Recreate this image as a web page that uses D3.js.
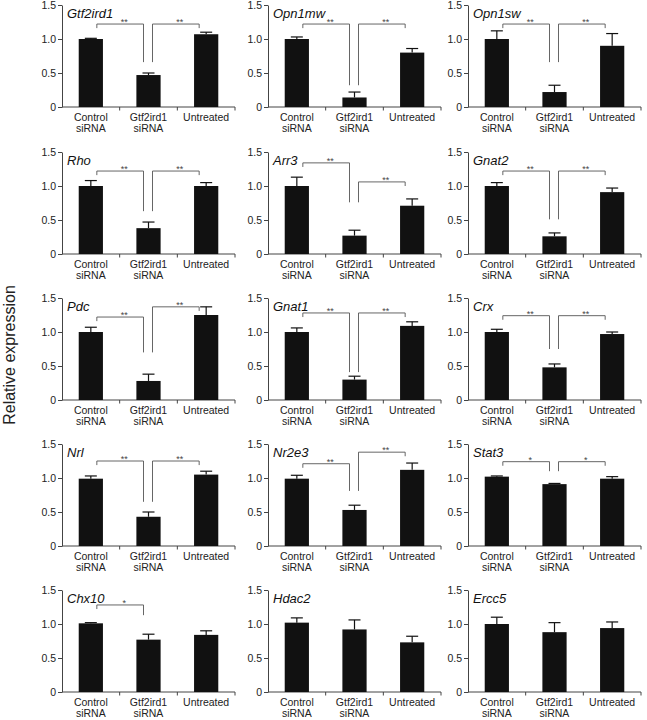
<!DOCTYPE html>
<html>
<head>
<meta charset="utf-8">
<script src="https://cdn.jsdelivr.net/npm/d3@7/dist/d3.min.js"></script>
<style>
  html, body { margin: 0; padding: 0; background: #fff; }
  svg { display: block; font-family: "Liberation Sans", Arial, Helvetica, sans-serif; }
</style>
</head>
<body>
<svg id="chart" width="647" height="720"></svg>
<script>
// ---------------- data ----------------
const genes = ["Gtf2ird1","Opn1mw","Opn1sw","Rho","Arr3","Gnat2","Pdc","Gnat1","Crx","Nrl","Nr2e3","Stat3","Chx10","Hdac2","Ercc5"];
const categories = [["Control","siRNA"],["Gtf2ird1","siRNA"],["Untreated"]];
const controlMean   = [1.00, 1.00, 1.00, 1.00, 1.00, 1.00, 1.00, 1.00, 1.00, 0.99, 0.99, 1.02, 1.01, 1.02, 1.00];
const controlErr    = [0.01, 0.03, 0.12, 0.08, 0.13, 0.05, 0.07, 0.06, 0.04, 0.04, 0.05, 0.01, 0.01, 0.07, 0.10];
const gtfMean       = [0.47, 0.14, 0.22, 0.38, 0.27, 0.26, 0.28, 0.30, 0.48, 0.43, 0.53, 0.91, 0.77, 0.92, 0.88];
const gtfErr        = [0.03, 0.08, 0.10, 0.09, 0.08, 0.05, 0.10, 0.05, 0.05, 0.07, 0.07, 0.01, 0.08, 0.14, 0.14];
const untreatedMean = [1.07, 0.80, 0.90, 1.00, 0.71, 0.91, 1.25, 1.09, 0.97, 1.05, 1.12, 0.99, 0.84, 0.73, 0.94];
const untreatedErr  = [0.03, 0.06, 0.18, 0.05, 0.10, 0.06, 0.12, 0.06, 0.03, 0.05, 0.10, 0.03, 0.06, 0.09, 0.09];
const yTicks = [0, 0.5, 1.0, 1.5];
// significance brackets: [from, to, level, end value at 'from', end value at 'to', label]
const brackets = [
  [[0,1,1.22,1.16,0.66,"**"],[1,2,1.22,0.66,1.16,"**"]],
  [[0,1,1.22,1.16,0.32,"**"],[1,2,1.22,0.32,1.16,"**"]],
  [[0,1,1.22,1.16,0.66,"**"],[1,2,1.22,0.66,1.16,"**"]],
  [[0,1,1.22,1.16,0.63,"**"],[1,2,1.22,0.63,1.16,"**"]],
  [[0,1,1.34,1.28,0.76,"**"],[1,2,1.06,0.76,1.00,"**"]],
  [[0,1,1.22,1.16,0.51,"**"],[1,2,1.22,0.51,1.16,"**"]],
  [[0,1,1.22,1.16,0.70,"**"],[1,2,1.37,0.70,1.31,"**"]],
  [[0,1,1.28,1.22,0.41,"**"],[1,2,1.28,0.41,1.22,"**"]],
  [[0,1,1.24,1.18,0.75,"**"],[1,2,1.24,0.75,1.18,"**"]],
  [[0,1,1.25,1.19,0.65,"**"],[1,2,1.25,0.65,1.19,"**"]],
  [[0,1,1.21,1.15,0.81,"**"],[1,2,1.38,0.81,1.32,"**"]],
  [[0,1,1.24,1.18,1.10,"*"],[1,2,1.24,1.10,1.18,"*"]],
  [[0,1,1.28,1.22,1.13,"*"]],
  [],
  []
];

// ---------------- layout ----------------
const svg = d3.select("#chart");
const colX = [62, 268, 468];
const rowY = [5, 152, 298, 444, 590];
const pw = 173, ph = 102;
const ink = "#111";
const lineCol = "#444";

genes.forEach((g, i) => {
  const x0 = colX[i % 3], yTop = rowY[Math.floor(i / 3)];
  const gp = svg.append("g").attr("transform", `translate(${x0},${yTop})`);
  const x = d3.scaleBand().domain([0,1,2]).range([0, pw]).paddingInner(0.58).paddingOuter(0.29);
  const y = d3.scaleLinear().domain([0, 1.5]).range([ph, 0]);
  const means = [controlMean[i], gtfMean[i], untreatedMean[i]];
  const errs = [controlErr[i], gtfErr[i], untreatedErr[i]];

  // y axis
  const ya = gp.append("g")
    .call(d3.axisLeft(y).tickValues(yTicks).tickSize(4).tickSizeOuter(0)
      .tickFormat(d => d === 0 ? "0" : d3.format(".1f")(d)));
  ya.select(".domain").attr("stroke", lineCol);
  ya.selectAll(".tick line").attr("stroke", lineCol);
  ya.selectAll(".tick text").attr("font-size", 10.5).attr("fill", "#222")
    .attr("x", -6).attr("font-family", "Liberation Sans, Arial, sans-serif");

  // x axis line and ticks at band boundaries
  gp.append("line").attr("x1", 0).attr("x2", pw).attr("y1", ph).attr("y2", ph)
    .attr("stroke", lineCol);
  const step = x.step();
  [1, 2, 3].forEach(k => {
    gp.append("line").attr("x1", k * step).attr("x2", k * step)
      .attr("y1", ph).attr("y2", ph + 3.5).attr("stroke", lineCol);
  });

  // x labels
  categories.forEach((lab, k) => {
    const cx = x(k) + x.bandwidth() / 2;
    lab.forEach((t, li) => {
      gp.append("text").attr("x", cx).attr("y", ph + 13.5 + li * 11.5)
        .attr("text-anchor", "middle").attr("font-size", 10.5).attr("fill", "#222").text(t);
    });
  });

  // error bars
  means.forEach((m, k) => {
    const cx = x(k) + x.bandwidth() / 2;
    gp.append("line").attr("x1", cx).attr("x2", cx)
      .attr("y1", y(m)).attr("y2", y(m + errs[k])).attr("stroke", ink).attr("stroke-width", 1.2);
    gp.append("line").attr("x1", cx - 6).attr("x2", cx + 6)
      .attr("y1", y(m + errs[k])).attr("y2", y(m + errs[k])).attr("stroke", ink).attr("stroke-width", 1.2);
  });

  // bars
  gp.selectAll("rect.bar").data(means).enter().append("rect")
    .attr("class", "bar")
    .attr("x", (d, k) => x(k)).attr("width", x.bandwidth())
    .attr("y", d => y(d)).attr("height", d => ph - y(d))
    .attr("fill", ink);

  // title
  gp.append("text").attr("x", 5).attr("y", 13)
    .attr("font-size", 13).attr("font-style", "italic").attr("fill", "#111").text(g);

  // significance brackets
  brackets[i].forEach(b => {
    const [a, c, h, ea, eb, lab] = b;
    const xa = x(a) + x.bandwidth() / 2 + (a === 0 ? 6 : 4);
    const xb = x(c) + x.bandwidth() / 2 + (c === 1 ? -5 : -7);
    gp.append("path")
      .attr("d", `M${xa},${y(ea)}V${y(h)}H${xb}V${y(eb)}`)
      .attr("fill", "none").attr("stroke", "#555").attr("stroke-width", 0.9);
    gp.append("text").attr("x", (xa + xb) / 2 + 4).attr("y", y(h) + 1)
      .attr("text-anchor", "middle").attr("font-size", 9).attr("fill", "#444").text(lab);
  });
});

// y axis title
svg.append("text")
  .attr("transform", "translate(15,355) rotate(-90)")
  .attr("text-anchor", "middle").attr("font-size", 16).attr("fill", "#222")
  .text("Relative expression");
</script>
</body>
</html>
